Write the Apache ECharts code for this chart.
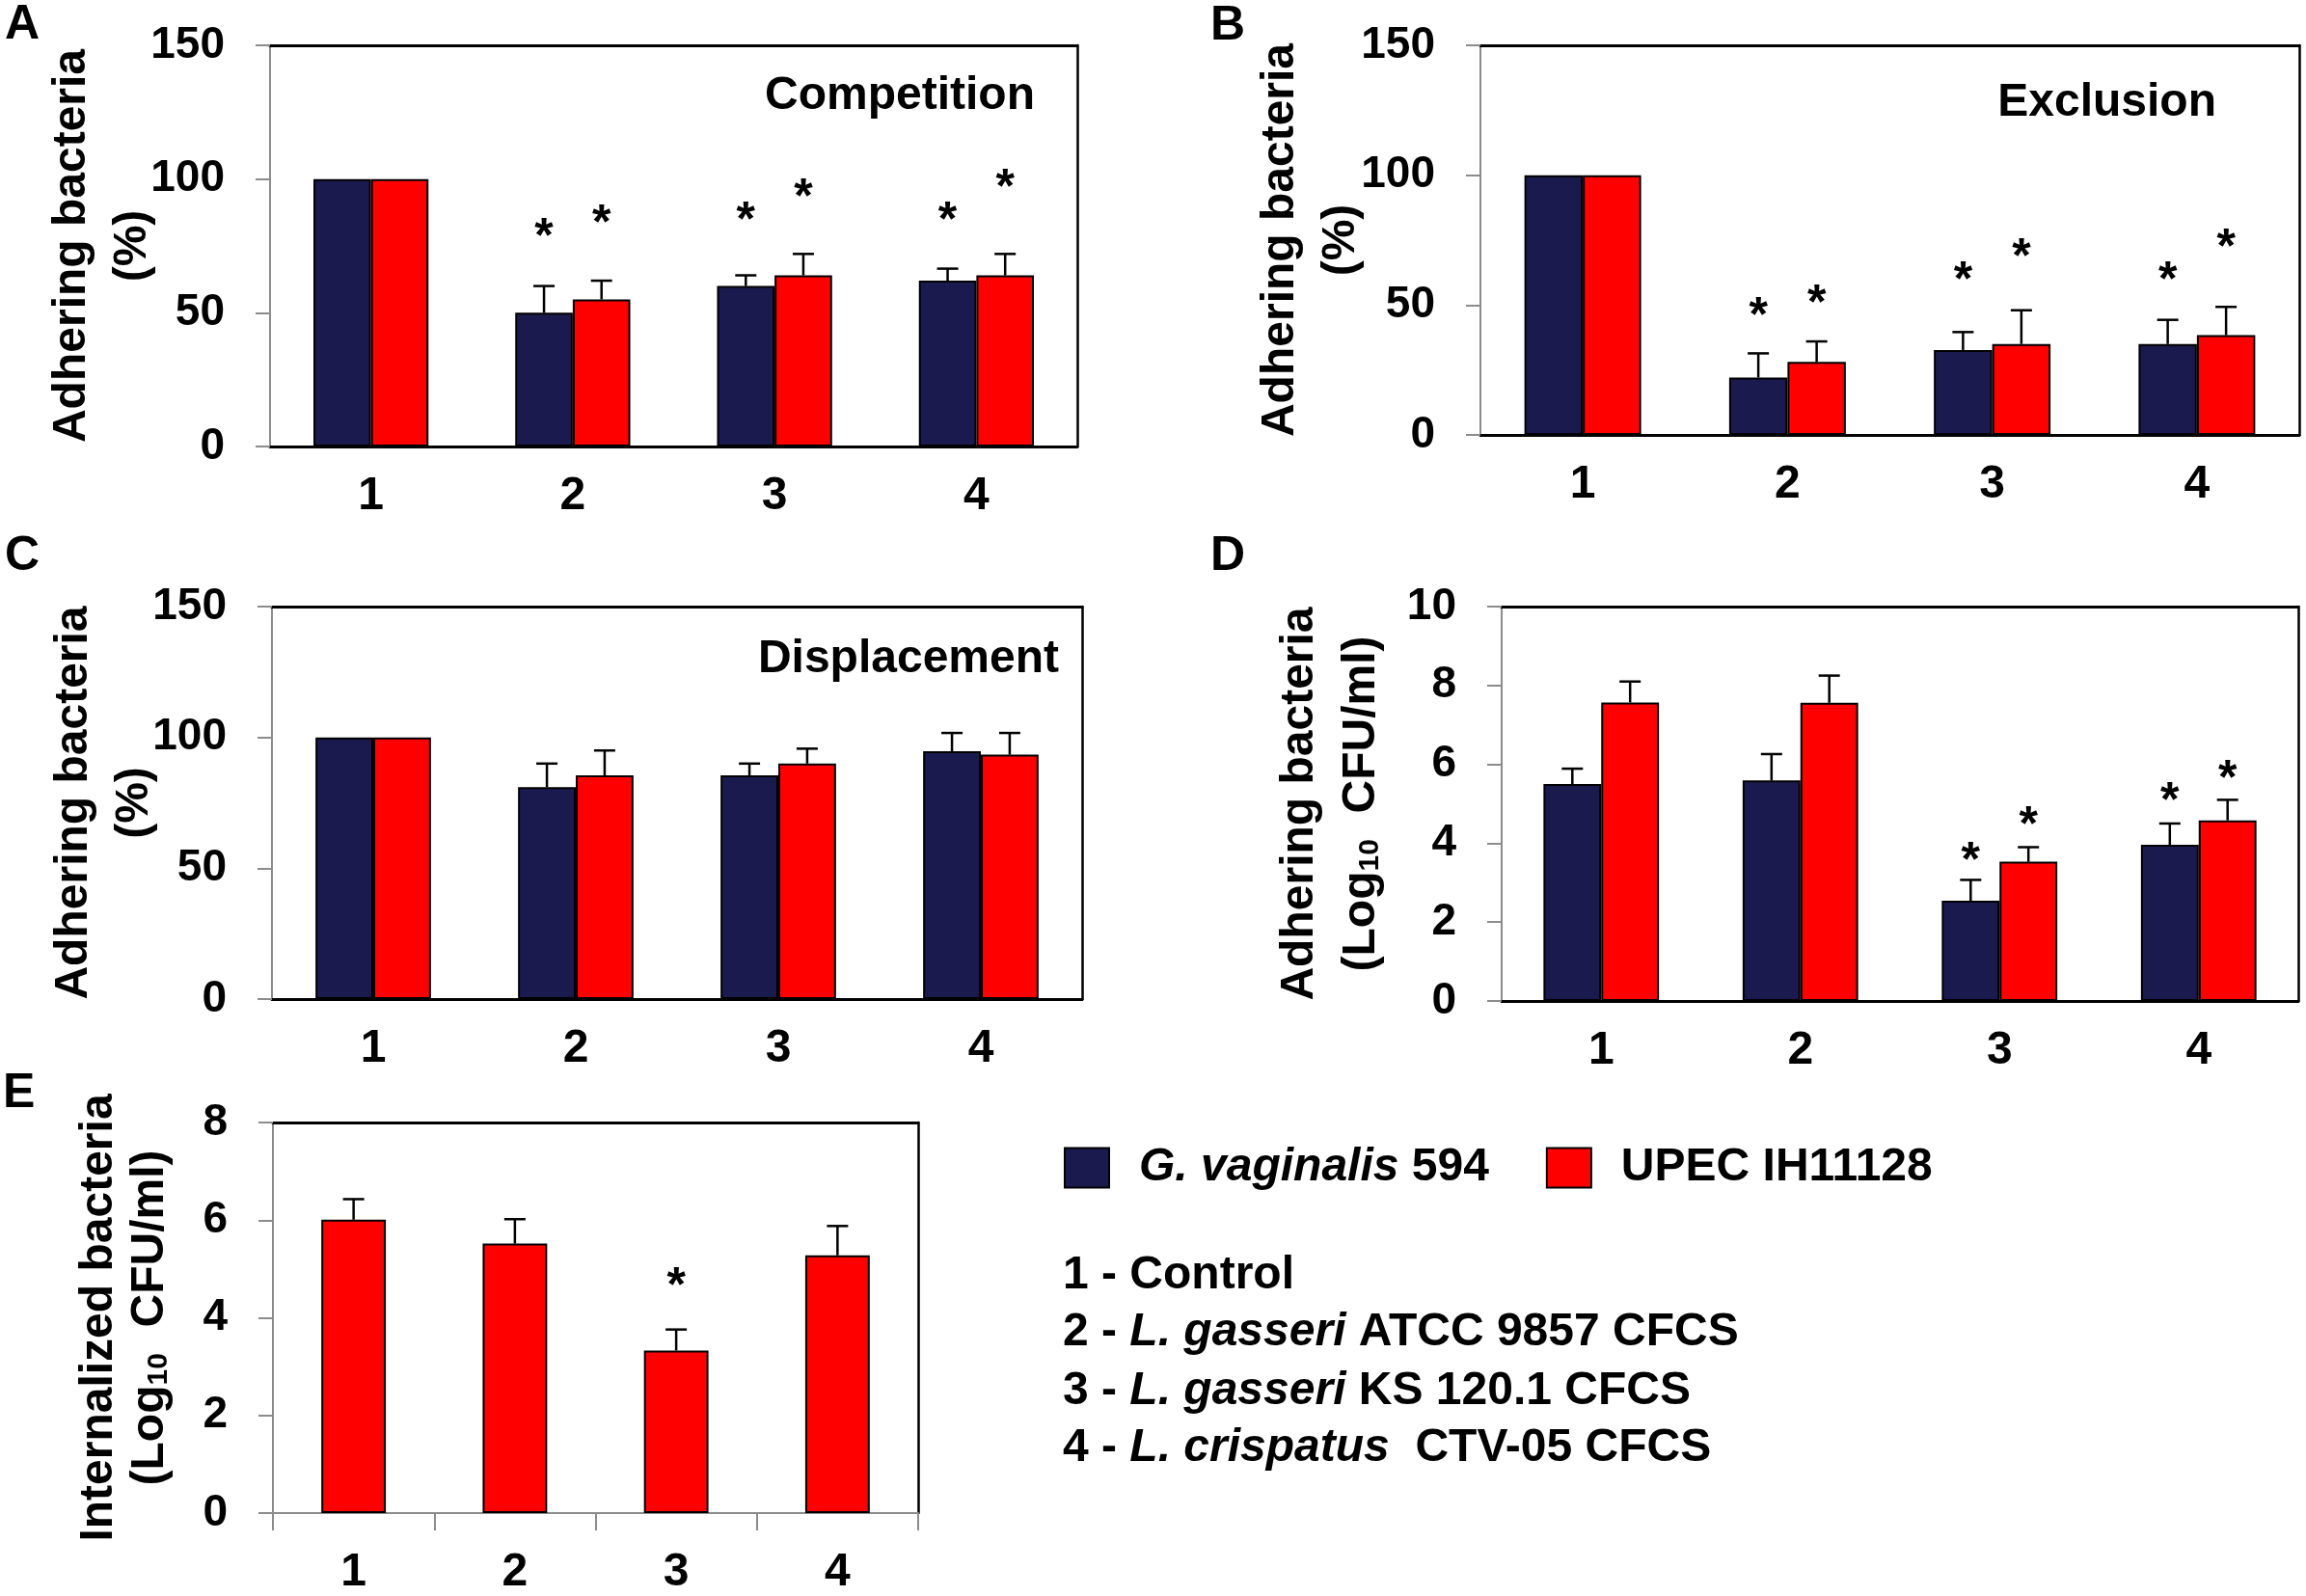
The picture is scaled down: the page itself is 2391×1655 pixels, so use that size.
<!DOCTYPE html>
<html>
<head>
<meta charset="utf-8">
<script src="https://cdn.jsdelivr.net/npm/echarts@6/dist/echarts.min.js"></script>
<style>
html,body{margin:0;padding:0;background:#fff;}
#chart{width:2391px;height:1655px;}
</style>
</head>
<body>
<div id="chart"></div>
<script>
// ---------- data ----------
const categories = ['1', '2', '3', '4'];
const seriesNames = ['G. vaginalis 594', 'UPEC IH11128'];

// A - Competition (%)
const aGV = [100, 50, 60, 62];
const aGVsd = [0, 10, 4, 4.5];
const aGVstar = [null, 81.7, 88, 88];
const aUP = [100, 55, 64, 64];
const aUPsd = [0, 7, 8, 8];
const aUPstar = [null, 87, 96.5, 100];

// B - Exclusion (%)
const bGV = [100, 22.1, 32.7, 35];
const bGVsd = [0, 9.3, 6.9, 9.3];
const bGVstar = [null, 49.3, 63, 63];
const bUP = [100, 28.1, 35, 38.4];
const bUPsd = [0, 7.9, 13, 10.9];
const bUPstar = [null, 54, 71.8, 75.8];

// C - Displacement (%)
const cGV = [100, 81, 85.5, 94.7];
const cGVsd = [0, 9, 4.5, 7];
const cGVstar = [null, null, null, null];
const cUP = [100, 85.5, 90, 93.4];
const cUPsd = [0, 9.5, 5.7, 8.3];
const cUPstar = [null, null, null, null];

// D - Adhering bacteria (Log10 CFU/ml)
const dGV = [5.5, 5.59, 2.54, 3.96];
const dGVsd = [0.39, 0.67, 0.53, 0.54];
const dGVstar = [null, null, 3.78, 5.3];
const dUP = [7.57, 7.56, 3.53, 4.58];
const dUPsd = [0.53, 0.69, 0.37, 0.52];
const dUPstar = [null, null, 4.7, 5.86];

// E - Internalized bacteria (Log10 CFU/ml), UPEC only
const eUP = [6.01, 5.52, 3.33, 5.28];
const eUPsd = [0.42, 0.5, 0.43, 0.6];
const eUPstar = [null, null, 4.83, null];

const legendLines = [
  '1 - Control',
  '2 - {i|L. gasseri} ATCC 9857 CFCS',
  '3 - {i|L. gasseri} KS 120.1 CFCS',
  '4 - {i|L. crispatus}  CTV-05 CFCS'
];

// ---------- style ----------
const FONT = '"Liberation Sans", Arial, Helvetica, sans-serif';
const NAVY = '#1b1a4e';
const RED = '#ff0000';
const GRAY = '#8c8c8c';

const panels = [
  { letter: 'A', lx: 5, ly: 26, title: 'Competition', tx: 1073, ty: 100,
    grid: { left: 280, top: 47, width: 837, height: 416 },
    ymax: 150, yint: 50, yname: 'Adhering bacteria\n(%)', nameGap: 111, lineH: 63,
    gap: 0.43, xMargin: 28, eAxis: false,
    sets: [[aGV, aGVsd, aGVstar, 0], [aUP, aUPsd, aUPstar, 1]] },
  { letter: 'B', lx: 1255, ly: 27, title: 'Exclusion', tx: 2298, ty: 107,
    grid: { left: 1535, top: 47, width: 849, height: 404 },
    ymax: 150, yint: 50, yname: 'Adhering bacteria\n(%)', nameGap: 113, lineH: 63,
    gap: 0.43, xMargin: 28, eAxis: false,
    sets: [[bGV, bGVsd, bGVstar, 0], [bUP, bUPsd, bUPstar, 1]] },
  { letter: 'C', lx: 5, ly: 577, title: 'Displacement', tx: 1098, ty: 684,
    grid: { left: 282, top: 629, width: 840, height: 407 },
    ymax: 150, yint: 50, yname: 'Adhering bacteria\n(%)', nameGap: 111, lineH: 63,
    gap: 0.43, xMargin: 28, eAxis: false,
    sets: [[cGV, cGVsd, cGVstar, 0], [cUP, cUPsd, cUPstar, 1]] },
  { letter: 'D', lx: 1255, ly: 577, title: null,
    grid: { left: 1557, top: 629, width: 826, height: 409 },
    ymax: 10, yint: 2, yname: 'Adhering bacteria\n(Log{s|10}  CFU/ml)', nameGap: 113, lineH: 64,
    gap: 0.42, xMargin: 28, eAxis: false,
    sets: [[dGV, dGVsd, dGVstar, 0], [dUP, dUPsd, dUPstar, 1]] },
  { letter: 'E', lx: 3, ly: 1134, title: null,
    grid: { left: 283, top: 1164, width: 669, height: 413 },
    ymax: 8, yint: 2, yname: 'Internalized bacteria\n(Log{s|10}  CFU/ml)', nameGap: 101, lineH: 53,
    gap: 0.60, xMargin: 38, eAxis: true,
    sets: [[eUP, eUPsd, eUPstar, 1]] }
];

const grids = [], xAxes = [], yAxes = [], series = [], graphics = [];

panels.forEach((p, k) => {
  grids.push(Object.assign({ show: false }, p.grid));
  const axisCol = p.eAxis ? GRAY : '#000';
  // bottom category axis
  xAxes.push({
    type: 'category', gridIndex: k, position: 'bottom', data: categories,
    axisLine: { show: true, onZero: false, lineStyle: { color: axisCol, width: p.eAxis ? 2 : 3 } },
    axisTick: { show: p.eAxis, length: 18, lineStyle: { color: GRAY, width: 2 } },
    axisLabel: { fontSize: 48, fontWeight: 'bold', color: '#000', fontFamily: FONT, margin: p.xMargin },
    splitLine: { show: false }
  });
  // top border
  xAxes.push({
    type: 'category', gridIndex: k, position: 'top', data: categories,
    axisLine: { show: true, onZero: false, lineStyle: { color: '#000', width: 3 } },
    axisTick: { show: false }, axisLabel: { show: false }, splitLine: { show: false }
  });
  // left value axis
  yAxes.push({
    type: 'value', gridIndex: k, position: 'left', min: 0, max: p.ymax, interval: p.yint,
    name: p.yname, nameLocation: 'middle', nameRotate: 90, nameGap: p.nameGap,
    nameMoveOverlap: false,
    nameTextStyle: {
      fontSize: 48, fontWeight: 'bold', color: '#000', fontFamily: FONT,
      lineHeight: p.lineH, align: 'center',
      rich: { s: { fontSize: 30, fontWeight: 'bold', fontFamily: FONT, color: '#000', padding: [18, 0, 0, 0] } }
    },
    axisLine: { show: true, onZero: false, lineStyle: { color: GRAY, width: 2 } },
    axisTick: { show: true, length: 15, lineStyle: { color: GRAY, width: 2 } },
    axisLabel: { fontSize: 46, fontWeight: 'bold', color: '#000', fontFamily: FONT, margin: 47 },
    splitLine: { show: false }
  });
  // right border
  yAxes.push({
    type: 'value', gridIndex: k, position: 'right', min: 0, max: p.ymax, interval: p.yint,
    axisLine: { show: true, onZero: false, lineStyle: { color: '#000', width: 2.5 } },
    axisTick: { show: false }, axisLabel: { show: false }, splitLine: { show: false }
  });

  const nBars = p.sets.length;
  p.sets.forEach((set, j) => {
    const vals = set[0], sds = set[1], stars = set[2], which = set[3];
    series.push({
      name: seriesNames[which], type: 'bar',
      xAxisIndex: 2 * k, yAxisIndex: 2 * k,
      data: vals,
      barGap: '0%', barCategoryGap: (p.gap * 100) + '%',
      itemStyle: { color: which === 0 ? NAVY : RED, borderColor: '#000', borderWidth: 2 },
      emphasis: { disabled: true },
      z: 2
    });
    const gapFrac = p.gap;
    series.push({
      type: 'custom', name: 'err' + k + '_' + j,
      xAxisIndex: 2 * k, yAxisIndex: 2 * k,
      data: vals.map((v, i) => [i, v, v + sds[i], stars[i] == null ? -1 : stars[i], sds[i]]),
      z: 5, silent: true,
      renderItem: function (params, api) {
        const i = api.value(0), v = api.value(1), top = api.value(2), star = api.value(3), sd = api.value(4);
        const catW = api.size([1, 0])[0];
        const barW = catW * (1 - gapFrac) / nBars;
        const cx = api.coord([i, 0])[0] - ((nBars - 1) / 2 - j) * barW;
        const children = [];
        if (sd > 0) {
          const y0 = api.coord([i, v])[1];
          const y1 = api.coord([i, top])[1];
          children.push({ type: 'line', shape: { x1: cx, y1: y0, x2: cx, y2: y1 },
            style: { stroke: '#000', lineWidth: 2.5 } });
          children.push({ type: 'line', shape: { x1: cx - 11, y1: y1, x2: cx + 11, y2: y1 },
            style: { stroke: '#000', lineWidth: 2.5 } });
        }
        if (star >= 0) {
          const ys = api.coord([i, star])[1];
          children.push({ type: 'text', x: cx, y: ys + 11,
            style: { text: '*', font: 'bold 50px ' + FONT, fill: '#000', align: 'center', verticalAlign: 'middle' } });
        }
        return { type: 'group', children: children };
      }
    });
  });

  graphics.push({ type: 'text', x: p.lx, y: p.ly, silent: true,
    style: { text: p.letter, font: 'bold 50px ' + FONT, fill: '#000', align: 'left', verticalAlign: 'middle' } });
  if (p.title) {
    graphics.push({ type: 'text', x: p.tx, y: p.ty, silent: true,
      style: { text: p.title, font: 'bold 48px ' + FONT, fill: '#000', align: 'right', verticalAlign: 'middle' } });
  }
});

const rowY = [1323, 1382, 1443, 1502];
legendLines.forEach((t, i) => {
  graphics.push({ type: 'text', x: 1102, y: rowY[i], silent: true,
    style: {
      text: t, font: 'bold 48px ' + FONT, fill: '#000', align: 'left', verticalAlign: 'middle',
      rich: { i: { fontStyle: 'italic', fontWeight: 'bold', fontSize: 48, fontFamily: FONT, fill: '#000' } }
    } });
});

const chart = echarts.init(document.getElementById('chart'), null, { renderer: 'canvas', width: 2391, height: 1655 });
chart.setOption({
  backgroundColor: '#fff',
  animation: false,
  grid: grids,
  xAxis: xAxes,
  yAxis: yAxes,
  series: series,
  legend: {
    data: seriesNames, left: 1098, top: 1182, orient: 'horizontal',
    itemWidth: 46, itemHeight: 41, itemGap: 59, icon: 'rect', selectedMode: false,
    formatter: function (name) { return name === 'G. vaginalis 594' ? '{i|G. vaginalis} 594' : name; },
    textStyle: {
      fontSize: 48, fontWeight: 'bold', color: '#000', fontFamily: FONT, padding: [0, 0, 0, 26],
      rich: { i: { fontStyle: 'italic', fontWeight: 'bold', fontSize: 48, fontFamily: FONT, color: '#000' } }
    }
  },
  graphic: graphics
});
</script>
</body>
</html>
